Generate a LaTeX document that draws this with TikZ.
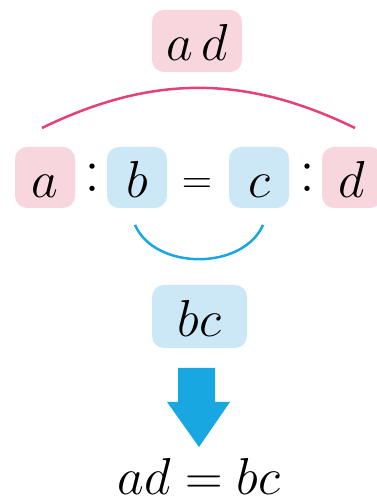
\RequirePackage{fix-cm}
\documentclass[tikz,border=0pt]{standalone}
\usepackage{amsmath}
\usepackage{xcolor}
\definecolor{boxpink}{RGB}{248,214,222}
\definecolor{boxblue}{RGB}{204,232,247}
\definecolor{linepink}{RGB}{228,64,122}
\definecolor{lineblue}{RGB}{25,167,226}
\newcommand{\eqfont}{\fontsize{52}{52}\selectfont}
\tikzset{
letter box/.style={rounded corners=12pt, minimum width=60pt, minimum height=61pt,
text height=40pt, text depth=0pt, inner sep=0pt, font=\eqfont},
pink box/.style={letter box, fill=boxpink},
blue box/.style={letter box, fill=boxblue},
sign/.style={inner sep=0pt, font=\eqfont},
}

\begin{document}
\begin{tikzpicture}[x=1pt, y=1pt]
\useasboundingbox (0,0) rectangle (377,503);

\node[pink box, minimum width=90pt, minimum height=62pt] (AD) at (197,462) {$a\,d$};

\node[pink box] (A) at (45,325.5) {$a$};
\node[sign, font=\fontsize{64}{64}\selectfont] (col1) at (92,325) {$:$};
\node[blue box] (B) at (137,325.5) {$b$};
\node[sign, font=\fontsize{42}{42}\selectfont] (eq) at (197,317) {$=$};
\node[blue box] (C) at (259,325.5) {$c$};
\node[sign, font=\fontsize{64}{64}\selectfont] (col2) at (307,325) {$:$};
\node[pink box] (D) at (352,325.5) {$d$};

\coordinate (AL) at (42,375);
\coordinate (AR) at (355,375);
\coordinate (BL) at (135,278);
\coordinate (BR) at (263,278);

\draw[line width=2.5pt, linepink] (AL) to[bend left=26] (AR);
\draw[line width=2.5pt, lineblue] (BL) to[bend right=66] (BR);

\node[blue box, minimum width=95pt, minimum height=63pt] (BC) at (199.5,186.5) {$bc$};

\fill[lineblue] (178,135) -- (215,135) -- (215,101) -- (230,101) -- (199,56)
-- (167,101) -- (178,101) -- cycle;

\node[sign, anchor=base] (res) at (199,9) {$ad=bc$};
\end{tikzpicture}
\end{document}
